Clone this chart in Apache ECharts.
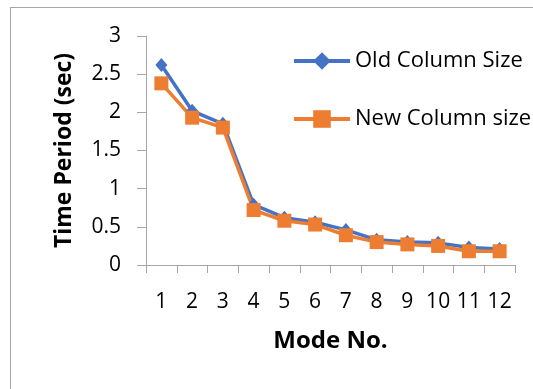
<!DOCTYPE html>
<html>
<head>
<meta charset="utf-8">
<script src="https://cdn.jsdelivr.net/npm/echarts@6/dist/echarts.min.js"></script>
<style>
    html, body { margin: 0; padding: 0; background: #fff; overflow: hidden; }
    #frame { position: absolute; left: 10px; top: 7px; width: 600px; height: 420px; border: 1px solid #a6a6a6; }
    #chart { position: absolute; left: 0; top: 0; width: 533px; height: 389px; }
</style>
</head>
<body>
<div id="frame"></div>
<div id="chart"></div>
<script>
// Mode numbers on the x axis
var modes = ['1', '2', '3', '4', '5', '6', '7', '8', '9', '10', '11', '12'];
// Time period (sec)
var oldColumnSize = [2.62, 2.02, 1.85, 0.79, 0.62, 0.56, 0.46, 0.33, 0.30, 0.29, 0.23, 0.21];
var newColumnSize = [2.38, 1.93, 1.80, 0.72, 0.58, 0.53, 0.39, 0.30, 0.27, 0.25, 0.18, 0.18];

var font = '"Open Sans", "Noto Sans", sans-serif';

var myChart = echarts.init(document.getElementById('chart'));
var option = {
    animation: false,
    textStyle: { fontFamily: font },
    legend: {
        orient: 'vertical',
        left: 287,
        top: 45,
        itemGap: 36,
        itemWidth: 56,
        itemHeight: 22,
        lineStyle: { width: 4 },
        textStyle: { fontSize: 22, color: '#000', fontFamily: font },
        data: ['Old Column Size', 'New Column size']
    },
    grid: { left: 146, top: 36, width: 369, height: 229 },
    xAxis: {
        type: 'category',
        data: modes,
        boundaryGap: true,
        name: 'Mode No.',
        nameLocation: 'middle',
        nameGap: 64,
        nameTextStyle: { fontSize: 24, fontWeight: 'bold', color: '#000', fontFamily: font },
        axisLine: { lineStyle: { color: '#a6a6a6', width: 1 } },
        axisTick: { show: true, length: 8, alignWithLabel: false, lineStyle: { color: '#a6a6a6' } },
        axisLabel: { fontSize: 21, color: '#000', margin: 27, interval: 0 }
    },
    yAxis: {
        type: 'value',
        min: 0,
        max: 3,
        interval: 0.5,
        name: 'Time Period (sec)',
        nameLocation: 'middle',
        nameGap: 70,
        nameTextStyle: { fontSize: 23, fontWeight: 'bold', color: '#000', fontFamily: font },
        axisLine: { show: true, lineStyle: { color: '#a6a6a6', width: 1 } },
        axisTick: { show: true, length: 9, lineStyle: { color: '#a6a6a6' } },
        axisLabel: { fontSize: 21, color: '#000', margin: 25 },
        splitLine: { show: false }
    },
    series: [
        {
            name: 'Old Column Size',
            type: 'line',
            data: oldColumnSize,
            symbol: 'diamond',
            symbolSize: [12, 14],
            lineStyle: { color: '#4472C4', width: 3.5 },
            itemStyle: { color: '#4472C4' }
        },
        {
            name: 'New Column size',
            type: 'line',
            data: newColumnSize,
            symbol: 'rect',
            symbolSize: 14,
            lineStyle: { color: '#ED7D31', width: 3.5 },
            itemStyle: { color: '#ED7D31' }
        }
    ]
};
myChart.setOption(option);
</script>
</body>
</html>
